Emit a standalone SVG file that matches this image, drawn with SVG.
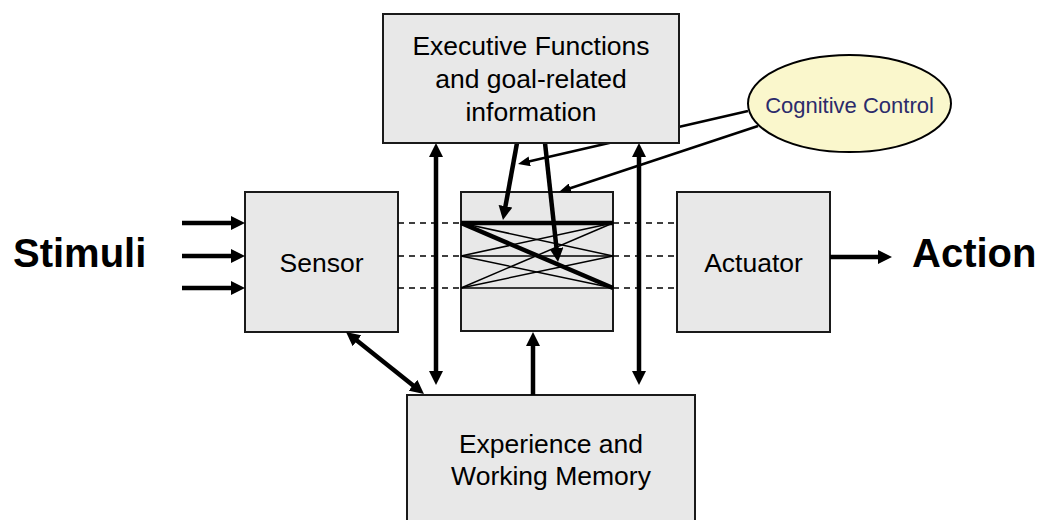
<svg xmlns="http://www.w3.org/2000/svg" width="1040" height="520" viewBox="0 0 1040 520">
<style>
.box{fill:#e8e8e8;stroke:#1a1a1a;stroke-width:2}
.lbl{font-family:"Liberation Sans",Arial,sans-serif;font-size:26.5px;fill:#000;text-anchor:middle}
.big{font-family:"Liberation Sans",Arial,sans-serif;font-size:40px;font-weight:bold;fill:#000}
.thick{stroke:#000;stroke-width:4.5;fill:none}
.thin{stroke:#000;stroke-width:2.5;fill:none}
.dash{stroke:#000;stroke-width:1.5;stroke-dasharray:6 5;fill:none}
.x{stroke:#000;stroke-width:1.5}
.xb{stroke:#000;stroke-width:4.5}
</style>
<defs>
<marker id="ah" markerUnits="userSpaceOnUse" markerWidth="14" markerHeight="14" viewBox="0 0 14 14" refX="1" refY="7" orient="auto-start-reverse">
<path d="M0,0 L14,7 L0,14 z" fill="#000"/>
</marker>
<marker id="ahs" markerUnits="userSpaceOnUse" markerWidth="12" markerHeight="10" viewBox="0 0 12 10" refX="1" refY="5" orient="auto-start-reverse">
<path d="M0,0 L12,5 L0,10 z" fill="#000"/>
</marker>
</defs>
<rect width="1040" height="520" fill="#fff"/>

<text class="big" x="13" y="267">Stimuli</text>
<text class="big" x="912" y="267">Action</text>

<g id="sensor">
<rect class="box" x="245" y="192" width="153" height="140"/>
<text class="lbl" x="321.5" y="272">Sensor</text>
</g>
<g id="switch">
<rect class="box" x="461" y="192" width="152" height="139"/>
<line class="x" x1="461" y1="256" x2="613" y2="256"/>
<line class="x" x1="461" y1="288" x2="613" y2="288"/>
<line class="x" x1="461" y1="223" x2="613" y2="256"/>
<line class="x" x1="461" y1="256" x2="613" y2="223"/>
<line class="x" x1="461" y1="256" x2="613" y2="288"/>
<line class="x" x1="461" y1="288" x2="613" y2="223"/>
<line class="x" x1="461" y1="288" x2="613" y2="256"/>
<line class="xb" x1="461" y1="223" x2="613" y2="223"/>
<line class="xb" x1="461" y1="223" x2="613" y2="288"/>
</g>
<g id="actuator">
<rect class="box" x="677" y="192" width="153" height="140"/>
<text class="lbl" x="753.5" y="272">Actuator</text>
</g>
<g id="memory">
<rect class="box" x="407" y="395" width="288" height="140"/>
<text class="lbl" x="551" y="453">Experience and</text>
<text class="lbl" x="551" y="485">Working Memory</text>
</g>

<g id="connectors">
<line class="thick" x1="182" y1="223" x2="232" y2="223" marker-end="url(#ah)"/>
<line class="thick" x1="182" y1="256" x2="232" y2="256" marker-end="url(#ah)"/>
<line class="thick" x1="182" y1="288" x2="232" y2="288" marker-end="url(#ah)"/>
<line class="thick" x1="830" y1="257" x2="879" y2="257" marker-end="url(#ah)"/>
<line class="dash" x1="398" y1="223" x2="461" y2="223"/>
<line class="dash" x1="398" y1="256" x2="461" y2="256"/>
<line class="dash" x1="398" y1="288" x2="461" y2="288"/>
<line class="dash" x1="613" y1="223" x2="677" y2="223"/>
<line class="dash" x1="613" y1="256" x2="677" y2="256"/>
<line class="dash" x1="613" y1="288" x2="677" y2="288"/>
<line class="thick" x1="436" y1="156" x2="436" y2="372" marker-start="url(#ah)" marker-end="url(#ah)"/>
<line class="thick" x1="639" y1="156" x2="639" y2="372" marker-start="url(#ah)" marker-end="url(#ah)"/>
<line class="thick" x1="533" y1="395" x2="533" y2="345" marker-end="url(#ah)"/>
<line class="thick" x1="356.2" y1="340.1" x2="413.8" y2="385.9" marker-start="url(#ah)" marker-end="url(#ah)"/>
<line class="thick" x1="517" y1="143" x2="505.3" y2="207.2" marker-end="url(#ah)"/>
<line class="thick" x1="545" y1="143" x2="556.6" y2="249.1" marker-end="url(#ah)"/>
<line class="thin" x1="748" y1="111" x2="528.7" y2="161.5" marker-end="url(#ahs)"/>
<line class="thin" x1="758" y1="126" x2="569.4" y2="188.5" marker-end="url(#ahs)"/>
</g>

<g id="executive">
<rect class="box" x="383" y="14" width="296" height="129"/>
<text class="lbl" x="531" y="55">Executive Functions</text>
<text class="lbl" x="531" y="88">and goal-related</text>
<text class="lbl" x="531" y="121">information</text>
</g>
<g id="cognitive">
<ellipse cx="849.5" cy="103.5" rx="101.5" ry="48.5" fill="#faf7cc" stroke="#000" stroke-width="2"/>
<text x="849.5" y="113" text-anchor="middle" font-family="'Liberation Sans',Arial,sans-serif" font-size="22" fill="#2b2b6b">Cognitive Control</text>
</g>
</svg>
